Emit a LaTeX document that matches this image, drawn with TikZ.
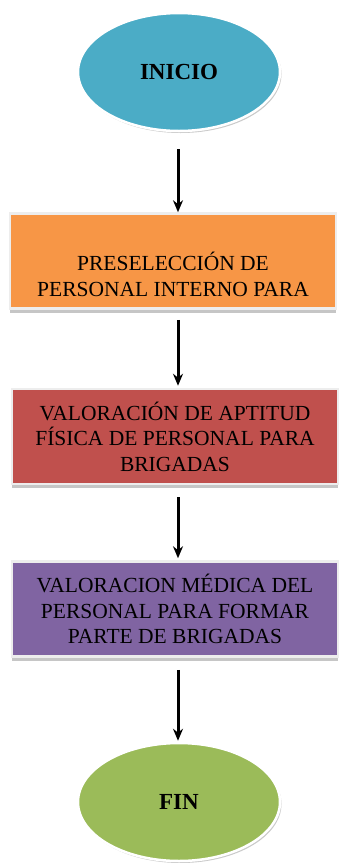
\documentclass[tikz,border=0pt]{standalone}
\usepackage{fontspec}
\setmainfont{Liberation Serif}
\usepackage{tikz}
\usetikzlibrary{arrows.meta,positioning,shapes.geometric,shadows}
\definecolor{caqua}{HTML}{4BACC6}
\definecolor{corange}{HTML}{F79646}
\definecolor{cred}{HTML}{C0504D}
\definecolor{cpurple}{HTML}{8064A2}
\definecolor{cgreen}{HTML}{9BBB59}

\begin{document}
\begin{tikzpicture}[
  x=1pt,y=-1pt,
  font=\fontsize{21.5}{25.5}\selectfont,
  term/.style={ellipse,draw=white,line width=2.5pt,minimum width=202pt,
               minimum height=118pt,font=\fontsize{23}{27}\selectfont\bfseries,
               drop shadow={shadow xshift=1.5pt,shadow yshift=-2pt,opacity=0.35,fill=black!60}},
  stepbox/.style={rectangle,draw=black!7,line width=2.5pt,align=center,
                  minimum width=326pt,minimum height=95pt,
                  drop shadow={shadow xshift=0pt,shadow yshift=-4pt,opacity=0.45,fill=black!50}},
  arr/.style={-{Stealth[length=12pt,width=10pt]},line width=3pt,black}]
  \useasboundingbox (0,0) rectangle (339,863);
  \node[term,fill=caqua] (ini) at (179,72) {INICIO};
  \node[stepbox,fill=corange,below=80pt of ini,xshift=-6pt] (pre)
    {\strut\\PRESELECCIÓN DE\\PERSONAL INTERNO PARA};
  \node[stepbox,fill=cred,below=78pt of pre,xshift=2pt] (apt)
    {VALORACIÓN DE APTITUD\\FÍSICA DE PERSONAL PARA\\BRIGADAS};
  \node[stepbox,fill=cpurple,below=75pt of apt] (med)
    {VALORACION MÉDICA DEL\\PERSONAL PARA FORMAR\\PARTE DE BRIGADAS};
  \node[term,fill=cgreen,below=84pt of med,xshift=4pt] (fin) {FIN};
  % connectors
  \draw[arr,shorten <=17pt] (ini.south -| 178,0) -- (pre.north -| 178,0);
  \draw[arr,shorten <=10pt,shorten >=2pt] (pre.south -| 178,0) -- (apt.north -| 178,0);
  \draw[arr,shorten <=12pt,shorten >=2pt] (apt.south -| 178,0) -- (med.north -| 178,0);
  \draw[arr,shorten <=12pt,shorten >=1pt] (med.south -| 178,0) -- (fin.north -| 178,0);
\end{tikzpicture}
\end{document}
